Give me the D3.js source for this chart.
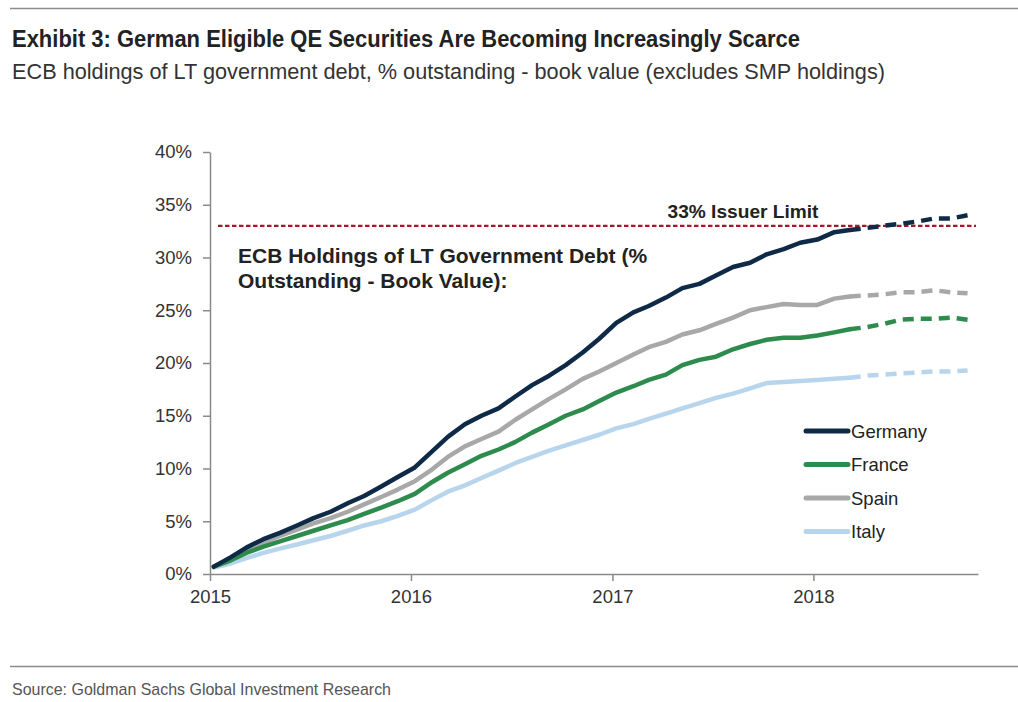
<!DOCTYPE html>
<html>
<head>
<meta charset="utf-8">
<script src="https://cdn.jsdelivr.net/npm/d3@7/dist/d3.min.js"></script>
<style>
  html, body { margin: 0; padding: 0; background: #fff; }
  svg { display: block; }
</style>
</head>
<body>
<svg id="chart" width="1018" height="702"></svg>
<script>
// ---- Data (monthly, Jan 2015 – Oct 2018), % of outstanding ----
const months = d3.timeMonth.range(new Date(2015, 0, 1), new Date(2018, 10, 1)).map(d => d3.timeDay.offset(d, 7));
const germany = [0.7,1.6,2.5,3.3,3.9,4.6,5.3,5.9,6.7,7.4,8.3,9.2,10.1,11.6,13.0,14.2,15.0,15.7,16.8,17.9,18.8,19.8,21.0,22.3,23.8,24.8,25.4,26.2,27.1,27.5,28.3,29.1,29.5,30.3,30.8,31.4,31.7,32.4,32.6,32.8,33.0,33.2,33.4,33.7,33.7,34.0];
const france  = [0.7,1.3,2.0,2.6,3.1,3.6,4.1,4.6,5.1,5.7,6.3,6.9,7.6,8.7,9.6,10.4,11.2,11.8,12.5,13.4,14.2,15.0,15.6,16.4,17.2,17.8,18.4,18.9,19.8,20.3,20.6,21.3,21.8,22.2,22.4,22.4,22.6,22.9,23.2,23.4,23.7,24.1,24.2,24.2,24.3,24.1];
const spain   = [0.7,1.5,2.3,3.0,3.6,4.2,4.8,5.3,5.9,6.6,7.3,8.0,8.8,9.9,11.1,12.1,12.8,13.5,14.6,15.6,16.6,17.5,18.5,19.2,20.0,20.8,21.5,22.0,22.7,23.1,23.7,24.3,25.0,25.3,25.6,25.5,25.5,26.1,26.3,26.4,26.5,26.7,26.7,26.9,26.7,26.6];
const italy   = [0.6,1.0,1.5,2.0,2.4,2.8,3.2,3.6,4.1,4.6,5.0,5.5,6.1,7.0,7.8,8.4,9.1,9.8,10.5,11.1,11.7,12.2,12.7,13.2,13.8,14.2,14.7,15.2,15.7,16.2,16.7,17.1,17.6,18.1,18.2,18.3,18.4,18.5,18.6,18.8,18.9,19.0,19.1,19.2,19.2,19.3];
const forecastStart = 38; // index where the dashed (projected) part begins
const issuerLimit = 33;
const yTicks = [0,5,10,15,20,25,30,35,40];
const xTickYears = [2015,2016,2017,2018];
const seriesNames = ["Germany","France","Spain","Italy"];
const seriesColors = ["#0f2a47","#2e8b4e","#a8a8a8","#b7d5ec"];
const seriesValues = [germany, france, spain, italy];

// ---- Layout ----
const svg = d3.select("#chart");
const x = d3.scaleTime().domain([new Date(2015,0,1), new Date(2018,9,27)]).range([210, 978]);
const y = d3.scaleLinear().domain([0,40]).range([574, 152]);
const font = "Arial, 'Liberation Sans', sans-serif";

// header / footer rules
svg.append("line").attr("x1",10).attr("x2",1018).attr("y1",8.5).attr("y2",8.5).attr("stroke","#8c8c8c").attr("stroke-width",1.5);
svg.append("line").attr("x1",10).attr("x2",1018).attr("y1",666.5).attr("y2",666.5).attr("stroke","#8c8c8c").attr("stroke-width",1.5);

svg.append("text").attr("x",12).attr("y",47)
  .attr("font-family","'Liberation Sans Narrow', 'Arial Narrow', Arial, sans-serif")
  .attr("font-weight","bold").attr("font-size",23).attr("fill","#222")
  .attr("textLength",788).attr("lengthAdjust","spacingAndGlyphs")
  .text("Exhibit 3: German Eligible QE Securities Are Becoming Increasingly Scarce");
svg.append("text").attr("x",12).attr("y",79)
  .attr("font-family","'Liberation Sans Narrow', 'Arial Narrow', Arial, sans-serif")
  .attr("font-size",22).attr("fill","#333")
  .attr("textLength",873).attr("lengthAdjust","spacingAndGlyphs")
  .text("ECB holdings of LT government debt, % outstanding - book value (excludes SMP holdings)");
svg.append("text").attr("x",12).attr("y",695)
  .attr("font-family","'Liberation Sans Narrow', 'Arial Narrow', Arial, sans-serif")
  .attr("font-size",17).attr("fill","#555")
  .attr("textLength",379).attr("lengthAdjust","spacingAndGlyphs")
  .text("Source: Goldman Sachs Global Investment Research");

// axes
const yAxis = d3.axisLeft(y).tickValues(yTicks).tickFormat(d => d + "%").tickSize(7).tickSizeOuter(0).tickPadding(11);
const gy = svg.append("g").attr("transform","translate(210,0)").call(yAxis);
gy.select(".domain").attr("stroke","#8a8a8a").attr("stroke-width",1.5);
gy.selectAll(".tick line").attr("stroke","#8a8a8a").attr("stroke-width",1.5);
gy.selectAll(".tick text").attr("font-family",font).attr("font-size",18.5).attr("fill","#333");

const xAxis = d3.axisBottom(x).tickValues(xTickYears.map(yr => new Date(yr,0,1))).tickFormat(d3.timeFormat("%Y")).tickSize(7).tickSizeOuter(0).tickPadding(9);
const gx = svg.append("g").attr("transform","translate(0,574)").call(xAxis);
gx.select(".domain").attr("stroke","#8a8a8a").attr("stroke-width",1.5);
gx.selectAll(".tick line").attr("stroke","#8a8a8a").attr("stroke-width",1.5);
gx.selectAll(".tick text").attr("font-family",font).attr("font-size",18.5).attr("fill","#333");

// issuer limit
svg.append("line").attr("x1",218).attr("x2",976).attr("y1",y(issuerLimit)).attr("y2",y(issuerLimit))
  .attr("stroke","#a3182b").attr("stroke-width",2.2).attr("stroke-dasharray","4.5,2.5");
svg.append("text").attr("x",743).attr("y",y(issuerLimit)-8).attr("text-anchor","middle")
  .attr("font-family",font).attr("font-weight","bold").attr("font-size",17.5).attr("fill","#222")
  .attr("textLength",151).attr("lengthAdjust","spacingAndGlyphs")
  .text("33% Issuer Limit");

// annotation
const ann = svg.append("text").attr("font-family",font).attr("font-weight","bold").attr("font-size",21).attr("fill","#222");
ann.append("tspan").attr("x",238).attr("y",263).text("ECB Holdings of LT Government Debt (%");
ann.append("tspan").attr("x",238).attr("y",288).text("Outstanding - Book Value):");

// lines (draw in reverse so Germany on top)
const line = d3.line().x(d => x(d.date)).y(d => y(d.v)).curve(d3.curveLinear);
const order = [3,2,1,0];
order.forEach(i => {
  const pts = seriesValues[i].map((v,k) => ({date: months[k], v}));
  svg.append("path").datum(pts.slice(0, forecastStart+1))
    .attr("d", line).attr("fill","none").attr("stroke",seriesColors[i])
    .attr("stroke-width",4.5).attr("stroke-linejoin","round").attr("stroke-linecap","round");
  svg.append("path").datum(pts.slice(forecastStart))
    .attr("d", line).attr("fill","none").attr("stroke",seriesColors[i])
    .attr("stroke-width",4.5).attr("stroke-dasharray","11,7").attr("stroke-linecap","butt");
});

// legend
const lg = svg.append("g");
seriesNames.forEach((n,i) => {
  const yy = 431 + i*33.5;
  lg.append("line").attr("x1",806).attr("x2",848).attr("y1",yy).attr("y2",yy)
    .attr("stroke",seriesColors[i]).attr("stroke-width",5).attr("stroke-linecap","round");
  lg.append("text").attr("x",851).attr("y",yy+6.5).attr("font-family",font).attr("font-size",18.5).attr("fill","#222").text(n);
});
</script>
</body>
</html>
